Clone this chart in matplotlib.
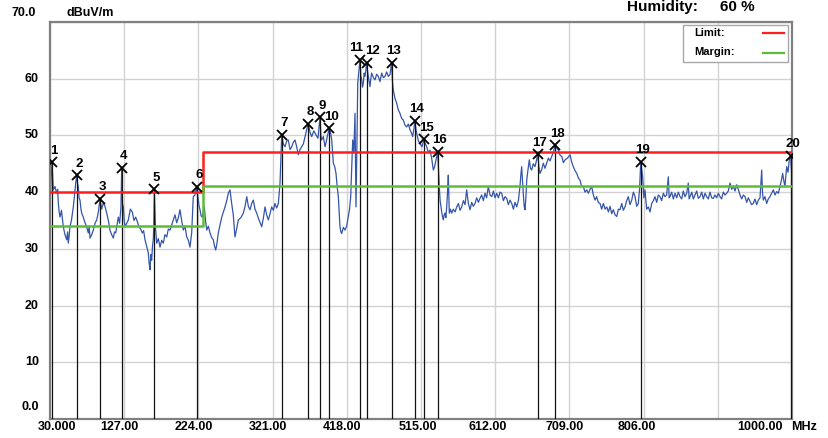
import matplotlib
matplotlib.use('Agg')
import matplotlib.pyplot as plt
import matplotlib.transforms as mtransforms
from matplotlib.lines import Line2D
from matplotlib.patches import Rectangle

# ---------------- data ----------------
trace_freq = [
    30.0, 31.3, 32.6, 33.5, 34.3, 36.5, 38.8, 40.0, 40.9, 42.0,
    43.1, 45.0, 47.4, 49.5, 51.8, 53.0, 53.9, 55.0, 56.1, 58.0,
    60.5, 62.0, 63.6, 64.9, 66.0, 67.0, 68.0, 69.2, 70.3, 71.4,
    73.5, 75.8, 77.9, 80.1, 81.2, 82.3, 84.5, 86.6, 88.8, 91.1,
    93.2, 95.4, 97.5, 99.7, 101.9, 104.1, 106.3, 108.4, 110.6, 112.8,
    114.3, 115.9, 117.6, 119.3, 121.0, 122.8, 123.7, 124.8, 125.8, 127.0,
    128.0, 130.2, 132.4, 135.0, 137.6, 139.8, 142.0, 144.2, 146.3, 148.5,
    150.7, 152.4, 154.2, 156.3, 158.5, 159.6, 160.7, 161.8, 162.9, 164.0,
    165.0, 165.7, 166.4, 167.8, 169.5, 171.6, 173.8, 176.0, 178.1, 180.3,
    182.6, 184.7, 186.9, 189.0, 191.2, 193.4, 195.6, 197.8, 199.9, 202.1,
    204.3, 206.5, 208.7, 210.9, 213.0, 214.1, 215.2, 216.2, 217.3, 219.5,
    221.8, 222.8, 223.9, 225.0, 226.1, 227.6, 229.1, 230.4, 231.7, 233.3,
    234.9, 237.0, 239.2, 241.3, 243.5, 245.0, 246.6, 248.3, 250.0, 252.3,
    254.5, 256.6, 258.8, 261.0, 263.1, 265.3, 267.5, 269.6, 271.8, 274.0,
    276.2, 279.5, 282.7, 285.0, 287.2, 289.3, 291.5, 293.7, 295.8, 298.0,
    300.2, 303.5, 306.8, 309.0, 311.1, 313.2, 315.4, 317.6, 319.8, 322.0,
    324.1, 326.3, 328.5, 330.7, 332.9, 335.0, 337.2, 339.4, 341.5, 343.8,
    346.0, 348.1, 350.3, 352.5, 354.6, 356.8, 359.0, 361.2, 363.4, 365.5,
    367.7, 370.0, 372.1, 374.9, 377.7, 380.3, 383.0, 384.1, 385.2, 387.3,
    389.5, 391.0, 392.5, 395.1, 396.7, 398.3, 400.4, 402.2, 403.9, 405.4,
    406.9, 408.0, 409.1, 410.2, 411.3, 413.5, 415.6, 417.8, 420.0, 421.6,
    423.1, 424.4, 425.7, 427.2, 428.7, 429.4, 430.0, 431.2, 432.3, 434.3,
    435.3, 436.4, 437.5, 438.5, 439.6, 440.7, 441.8, 442.9, 444.0, 445.0,
    446.1, 447.2, 448.3, 449.4, 450.5, 452.7, 454.9, 457.0, 459.2, 461.4,
    463.6, 465.8, 467.9, 470.1, 472.3, 474.5, 476.7, 477.7, 478.8, 481.0,
    483.2, 485.3, 487.5, 489.7, 491.9, 494.1, 496.3, 498.4, 500.6, 502.3,
    504.1, 505.6, 507.1, 508.4, 509.8, 511.7, 513.7, 516.3, 518.9, 520.7,
    522.5, 524.6, 526.8, 528.9, 531.1, 532.8, 534.6, 536.8, 538.9, 540.0,
    541.1, 542.6, 544.2, 545.3, 546.4, 547.5, 548.6, 549.7, 550.7, 552.0,
    553.5, 555.1, 557.3, 559.5, 561.7, 563.9, 566.0, 568.2, 570.4, 572.6,
    574.7, 576.9, 579.1, 581.3, 583.4, 585.6, 587.8, 590.0, 592.1, 594.3,
    596.5, 598.7, 600.8, 603.0, 605.2, 607.5, 609.7, 611.8, 614.0, 616.2,
    618.3, 620.5, 622.7, 624.9, 627.1, 629.2, 631.4, 633.6, 635.8, 637.9,
    640.1, 642.3, 644.4, 645.5, 646.6, 647.7, 648.7, 649.9, 651.0, 652.1,
    653.2, 654.9, 656.6, 658.1, 659.7, 661.8, 664.0, 665.8, 667.6, 669.1,
    670.6, 672.8, 674.9, 677.1, 679.3, 681.5, 683.7, 685.9, 688.0, 690.2,
    692.4, 694.5, 696.8, 699.0, 701.2, 703.3, 706.5, 709.8, 712.0, 714.1,
    716.3, 718.6, 720.7, 722.9, 725.0, 727.2, 729.4, 731.6, 733.8, 736.0,
    738.1, 740.3, 742.5, 744.6, 746.8, 749.0, 751.2, 753.4, 755.6, 757.8,
    760.0, 762.1, 764.3, 766.4, 768.7, 770.9, 773.0, 775.2, 777.4, 779.5,
    781.7, 783.9, 786.0, 788.2, 790.5, 792.6, 794.8, 797.0, 799.1, 800.7,
    802.3, 803.5, 804.8, 806.3, 807.8, 810.0, 812.2, 814.4, 816.6, 818.7,
    820.9, 823.1, 825.2, 827.4, 829.6, 831.8, 834.0, 836.1, 838.3, 839.4,
    840.5, 842.7, 844.9, 847.1, 849.3, 851.4, 853.6, 855.8, 857.9, 860.1,
    862.3, 864.4, 865.5, 866.7, 869.0, 871.0, 873.2, 875.4, 877.5, 879.7,
    882.0, 884.1, 886.3, 888.5, 890.6, 892.8, 895.0, 897.1, 899.3, 901.5,
    903.7, 905.9, 908.0, 910.2, 912.4, 914.6, 916.7, 918.9, 921.1, 923.3,
    925.5, 927.7, 929.8, 932.0, 934.2, 936.4, 938.6, 940.8, 942.9, 945.1,
    947.2, 949.4, 951.6, 953.8, 956.0, 958.2, 960.4, 961.4, 962.5, 964.7,
    966.9, 969.0, 971.2, 973.4, 975.6, 977.8, 980.0, 982.2, 984.3, 986.0,
    987.8, 989.3, 990.8, 992.0, 993.1, 994.8, 996.5, 998.3, 999.2, 1000.0]
trace_level = [
    37.4, 42.0, 45.3, 42.5, 40.4, 41.0, 39.8, 40.5, 38.0, 36.5,
    35.6, 36.8, 33.9, 32.5, 31.6, 33.0, 31.0, 32.2, 33.9, 35.0,
    37.4, 39.5, 41.6, 43.0, 41.5, 40.9, 39.0, 38.6, 37.2, 36.3,
    35.6, 34.6, 33.9, 32.8, 34.0, 31.9, 32.5, 33.3, 34.5, 35.1,
    36.5, 38.8, 37.0, 38.1, 37.5, 36.3, 35.0, 33.3, 32.5, 31.9,
    33.0, 32.8, 34.2, 35.6, 34.5, 37.4, 44.3, 38.0, 37.4, 35.0,
    33.9, 34.5, 35.1, 37.0, 36.5, 35.0, 35.6, 34.8, 33.9, 33.5,
    32.8, 33.2, 31.6, 30.5, 29.3, 27.5, 26.3, 29.0, 28.0, 30.5,
    31.6, 34.0, 40.5, 34.0, 31.0, 31.8, 30.3, 31.5, 31.0, 32.5,
    32.1, 33.5, 33.3, 34.2, 35.1, 36.0, 34.6, 35.5, 36.9, 35.0,
    33.3, 34.0, 32.1, 31.5, 30.3, 31.5, 32.8, 36.0, 39.2, 39.5,
    40.9, 39.5, 38.6, 37.5, 36.9, 35.8, 35.6, 36.5, 37.4, 35.0,
    33.3, 34.0, 32.8, 32.0, 31.6, 30.5, 29.8, 31.0, 32.8, 34.2,
    35.6, 36.5, 37.4, 38.5, 39.8, 40.4, 38.0, 36.0, 32.1, 33.5,
    35.1, 35.5, 36.3, 37.5, 39.2, 37.5, 36.9, 38.0, 38.6, 37.0,
    36.3, 35.0, 33.9, 35.5, 37.4, 36.0, 35.1, 36.2, 37.4, 36.8,
    38.0, 37.2, 38.0, 41.6, 50.1, 48.5, 48.0, 49.0, 49.2, 47.5,
    48.0, 48.8, 49.2, 48.0, 46.6, 47.5, 48.0, 48.5, 49.8, 51.0,
    52.1, 50.5, 49.8, 50.8, 50.1, 49.5, 53.2, 50.0, 49.2, 49.8,
    48.0, 48.8, 49.8, 51.3, 50.5, 49.2, 45.1, 44.5, 43.3, 41.0,
    39.2, 36.5, 33.9, 33.0, 32.7, 33.8, 33.3, 34.0, 35.7, 37.0,
    39.2, 44.0, 49.2, 47.0, 53.9, 45.0, 37.4, 48.0, 59.2, 62.1,
    63.3, 60.5, 59.8, 58.5, 59.2, 61.0, 60.4, 61.5, 62.8, 61.5,
    60.4, 59.5, 58.6, 60.0, 61.0, 60.2, 59.8, 60.8, 60.4, 59.5,
    61.0, 60.2, 60.4, 61.2, 60.4, 60.8, 62.8, 59.5, 58.0, 56.5,
    55.7, 54.5, 53.9, 53.0, 52.7, 51.8, 51.5, 52.0, 51.0, 50.5,
    49.8, 51.0, 52.6, 51.0, 50.1, 49.0, 48.6, 48.0, 49.3, 48.5,
    48.0, 47.0, 47.4, 46.0, 43.9, 44.5, 45.7, 47.1, 41.0, 38.5,
    37.4, 36.0, 35.1, 36.0, 36.3, 35.5, 37.4, 40.0, 43.0, 36.3,
    37.0, 36.3, 37.0, 36.5, 37.4, 38.0, 36.8, 37.4, 38.5, 37.8,
    40.4, 38.0, 36.9, 38.2, 37.5, 38.0, 39.0, 38.2, 38.9, 39.5,
    38.5, 39.8, 39.0, 41.0, 39.5, 39.2, 40.2, 39.0, 39.8, 39.0,
    40.0, 39.8, 38.5, 39.2, 38.9, 37.8, 38.6, 38.0, 37.0, 38.2,
    37.4, 38.5, 41.0, 43.0, 44.5, 42.0, 39.8, 37.5, 36.9, 39.0,
    42.1, 44.0, 45.7, 44.2, 43.9, 45.0, 44.5, 45.5, 46.7, 44.5,
    43.3, 44.0, 45.1, 44.2, 45.1, 46.0, 45.5, 46.3, 47.0, 48.3,
    47.8, 47.4, 46.5, 46.3, 45.2, 45.7, 46.0, 46.6, 45.3, 44.5,
    43.8, 43.3, 42.5, 42.1, 41.0, 41.0, 40.0, 40.4, 39.8, 40.5,
    41.0, 39.5, 38.6, 39.2, 38.2, 38.0, 37.0, 38.0, 37.0, 37.4,
    36.5, 37.5, 36.2, 36.9, 36.0, 35.7, 37.0, 36.9, 38.0, 36.8,
    37.4, 38.5, 39.2, 37.8, 38.6, 40.0, 39.2, 37.5, 38.0, 40.5,
    45.4, 44.0, 42.7, 39.0, 40.4, 37.0, 37.4, 36.5, 38.0, 38.5,
    39.2, 38.2, 39.5, 39.2, 38.5, 39.8, 39.2, 39.5, 42.7, 39.0,
    39.2, 40.0, 38.8, 39.8, 39.0, 40.0, 39.2, 38.8, 40.2, 39.2,
    39.8, 41.6, 38.8, 39.2, 40.0, 38.8, 39.5, 40.2, 38.9, 39.2,
    40.0, 38.8, 39.8, 39.2, 38.8, 40.0, 39.0, 38.9, 39.5, 39.0,
    39.8, 39.2, 38.8, 40.0, 39.5, 39.8, 40.2, 41.6, 40.5, 41.0,
    40.2, 41.3, 40.5, 39.5, 38.8, 39.5, 39.2, 38.2, 39.0, 38.4,
    37.8, 38.0, 38.8, 37.8, 38.6, 39.0, 43.9, 40.0, 38.6, 39.2,
    38.0, 38.8, 39.2, 39.8, 40.4, 39.5, 40.1, 39.8, 41.0, 42.0,
    43.3, 42.0, 41.0, 43.0, 44.5, 43.5, 45.7, 46.4, 44.0, 42.1]

limit_freq = [30, 230, 230, 1000]
limit_level = [40, 40, 47, 47]
margin_freq = [30, 230, 230, 1000]
margin_level = [34, 34, 41, 41]

marker_ids = list(range(1, 21))
marker_freq = [32.6, 64.9, 95.4, 123.7, 166.4, 221.8, 332.9, 367.7, 383.0, 395.1,
               435.3, 444.0, 476.7, 507.1, 518.9, 536.8, 667.6, 690.2, 802.3, 998.3]
marker_level = [45.3, 43.0, 38.8, 44.3, 40.5, 40.9, 50.1, 52.1, 53.2, 51.3,
                63.3, 62.8, 62.8, 52.6, 49.3, 47.1, 46.7, 48.3, 45.4, 46.4]

x_ticks = [30, 127, 224, 321, 418, 515, 612, 709, 806, 903, 1000]
x_labels = ["30.000", "127.00", "224.00", "321.00", "418.00", "515.00", "612.00",
            "709.00", "806.00", "", "1000.00"]
y_ticks = [0, 10, 20, 30, 40, 50, 60, 70]
y_labels = ["0.0", "10", "20", "30", "40", "50", "60", "70.0"]

# ---------------- figure ----------------
plt.rcParams['font.family'] = ['Liberation Sans', 'DejaVu Sans']
W, H = 829, 438
fig = plt.figure(figsize=(W / 100, H / 100), dpi=100)
fig.patch.set_facecolor('white')


def fx(x):
    return x / W


def fy(y):
    return 1 - y / H


L, R, T, B = 50, 792, 22, 419
ax = fig.add_axes([fx(L), fy(B), (R - L) / W, (B - T) / H])
ax.set_xlim(30, 1000)
ax.set_ylim(0, 70)
ax.set_xticks(x_ticks)
ax.set_yticks(y_ticks)
ax.set_xticklabels([])
ax.set_yticklabels([])
ax.tick_params(length=0)
ax.grid(True, color='#d2d2d2', lw=1.0, zorder=0)
for s in ax.spines.values():
    s.set_color('#808080')
    s.set_linewidth(1.6)

ax.plot(trace_freq, trace_level, color='#3555aa', lw=0.9, zorder=2)
ax.vlines(marker_freq, 0, marker_level, color='#111111', lw=0.9, zorder=3)
ax.plot(limit_freq, limit_level, color='#ff1e1e', lw=1.8, zorder=4)
ax.plot(margin_freq, margin_level, color='#5cbd3a', lw=1.8, zorder=4)
ax.plot(marker_freq, marker_level, 'x', color='black', ms=6.5, mew=1.3, zorder=5)
label_dx = {11: -3.0, 12: 4.0}
for i, f, l in zip(marker_ids, marker_freq, marker_level):
    ax.annotate(str(i), (f, l), xytext=(label_dx.get(i, 1.5), 4.0), textcoords='offset points',
                ha='center', va='bottom', fontsize=9.5, fontweight='bold', zorder=6)

# x tick labels
xt = mtransforms.blended_transform_factory(ax.transData, ax.transAxes)
x_shift = [7.5, -5, -5, -5, -5, -3, -8, -5, -7, 0, -32]
for t, lab, dx in zip(x_ticks, x_labels, x_shift):
    if lab:
        tr = xt + mtransforms.ScaledTranslation(dx / 100, -8 / 100, fig.dpi_scale_trans)
        ax.text(t, 0, lab, transform=tr, ha='center', va='center', fontsize=9,
                fontweight='bold', clip_on=False)
fig.text(fx(804), fy(427), "MHz", ha='center', va='center', fontsize=9, fontweight='bold')

# y tick labels
yt = mtransforms.blended_transform_factory(ax.transAxes, ax.transData)
for t, lab in zip(y_ticks, y_labels):
    dy = 0
    dx = -11
    if t == 0:
        dy = 12
    if t == 70:
        dy = 9
        dx = -14
    tr = yt + mtransforms.ScaledTranslation(dx / 100, dy / 100, fig.dpi_scale_trans)
    ax.text(0, t, lab, transform=tr, ha='right', va='center', fontsize=9,
            fontweight='bold', clip_on=False)

fig.text(fx(67), fy(13), "dBuV/m", ha='left', va='center', fontsize=9, fontweight='bold')
fig.text(fx(627), fy(7), "Humidity:", ha='left', va='center', fontsize=11, fontweight='bold')
fig.text(fx(720), fy(7), "60 %", ha='left', va='center', fontsize=11, fontweight='bold')

# legend box
fig.patches.append(Rectangle((fx(683), fy(62)), (788 - 683) / W, (62 - 25) / H,
                             transform=fig.transFigure, facecolor='white',
                             edgecolor='#a8a8a8', lw=1.0, zorder=10))
fig.text(fx(694), fy(33), "Limit:", ha='left', va='center', fontsize=8, fontweight='bold', zorder=11)
fig.text(fx(694), fy(52), "Margin:", ha='left', va='center', fontsize=8, fontweight='bold', zorder=11)
fig.lines.append(Line2D([fx(763), fx(784)], [fy(33), fy(33)], transform=fig.transFigure,
                        color='#ff1e1e', lw=1.6, zorder=11))
fig.lines.append(Line2D([fx(763), fx(784)], [fy(52.5), fy(52.5)], transform=fig.transFigure,
                        color='#5cbd3a', lw=1.6, zorder=11))

fig.savefig('out.png', dpi=100)
